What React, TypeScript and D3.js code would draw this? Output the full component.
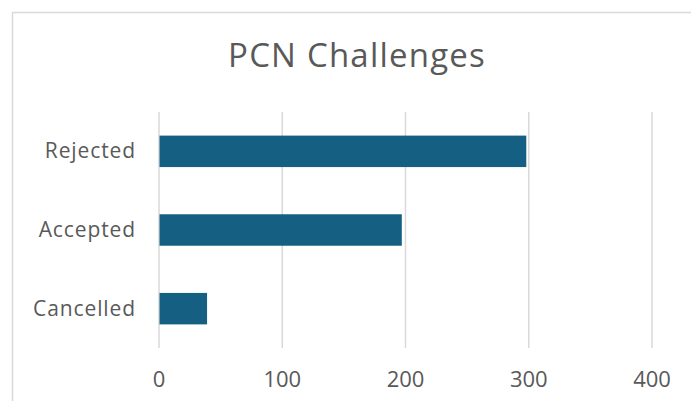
import React from "react";
import * as d3 from "d3";

const categories = ["Rejected", "Accepted", "Cancelled"];
const counts = [298, 197, 39];
const xTicks = [0, 100, 200, 300, 400];

const W = 691;
const H = 401;
const FONT = "'Open Sans', 'Noto Sans', sans-serif";

export default function App() {
  const x = d3.scaleLinear().domain([0, 400]).range([159, 652]);
  const y = d3
    .scaleBand<string>()
    .domain(categories)
    .range([112, 348])
    .paddingInner(0.6)
    .paddingOuter(0.3);

  return (
    <svg
      width={W}
      height={H}
      style={{ position: "absolute", left: 0, top: 0, background: "#fff" }}
    >
      {/* chart border */}
      <rect x={12.5} y={12.5} width={690} height={400} fill="#fff" stroke="#d9d9d9" strokeWidth={1.5} />

      <text
        x={357}
        y={67}
        textAnchor="middle"
        fontFamily={FONT}
        fontSize={33}
        letterSpacing={1.2}
        fill="#595959"
      >
        PCN Challenges
      </text>

      {/* gridlines */}
      {xTicks.map((t) => (
        <line key={t} x1={x(t)} x2={x(t)} y1={112} y2={348} stroke="#d9d9d9" strokeWidth={1.5} />
      ))}

      {/* bars */}
      {categories.map((c, i) => (
        <rect
          key={c}
          x={x(0) + 0.5}
          y={y(c)}
          width={x(counts[i]) - x(0) - 0.5}
          height={y.bandwidth()}
          fill="#156082"
        />
      ))}

      {/* category labels */}
      {categories.map((c) => (
        <text
          key={c}
          x={136}
          y={(y(c) ?? 0) + y.bandwidth() / 2}
          dy="0.34em"
          textAnchor="end"
          fontFamily={FONT}
          fontSize={21}
          letterSpacing={0.9}
          fill="#595959"
        >
          {c}
        </text>
      ))}

      {/* x tick labels */}
      {xTicks.map((t) => (
        <text
          key={t}
          x={x(t)}
          y={387}
          textAnchor="middle"
          fontFamily={FONT}
          fontSize={22}
          fill="#595959"
        >
          {t}
        </text>
      ))}
    </svg>
  );
}
